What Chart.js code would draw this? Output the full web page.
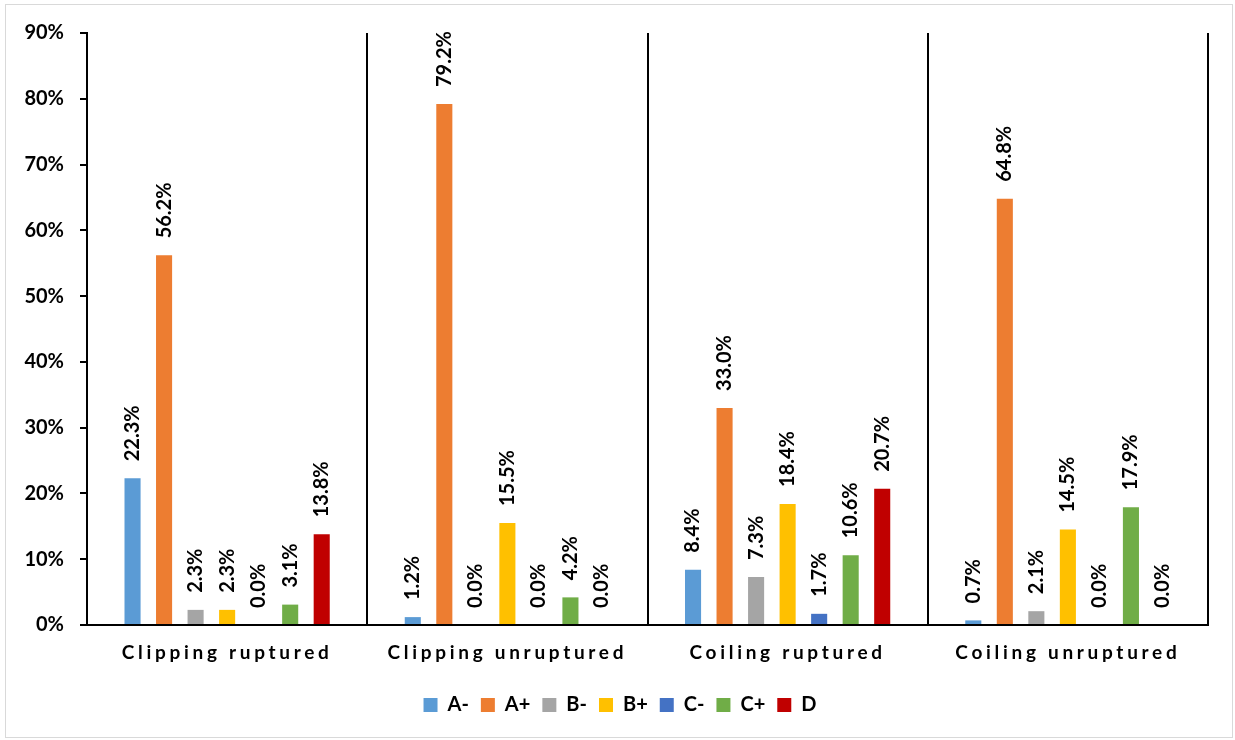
<!DOCTYPE html>
<html>
<head>
<meta charset="utf-8">
<script src="https://cdn.jsdelivr.net/npm/chart.js@4/dist/chart.umd.min.js"></script>
<style>
html,body{margin:0;background:#fff;}
#box{position:absolute;left:5px;top:4px;width:1226px;height:732px;border:1px solid #d9d9d9;}
</style>
</head>
<body>
<div id="box"><canvas id="chart" width="1226" height="732"></canvas></div>
<script>
const categories = ['Clipping ruptured', 'Clipping unruptured', 'Coiling ruptured', 'Coiling unruptured'];
const grades = ['A-', 'A+', 'B-', 'B+', 'C-', 'C+', 'D'];
const colors = ['#5B9BD5', '#ED7D31', '#A5A5A5', '#FFC000', '#4472C4', '#70AD47', '#C00000'];
// percentages per grade, one value per category
const aMinus = [22.3, 1.2, 8.4, 0.7];
const aPlus  = [56.2, 79.2, 33.0, 64.8];
const bMinus = [2.3, 0.0, 7.3, 2.1];
const bPlus  = [2.3, 15.5, 18.4, 14.5];
const cMinus = [0.0, 0.0, 1.7, 0.0];
const cPlus  = [3.1, 4.2, 10.6, 17.9];
const dGrade = [13.8, 0.0, 20.7, 0.0];
const yTicks = [0, 10, 20, 30, 40, 50, 60, 70, 80, 90];

const series = [aMinus, aPlus, bMinus, bPlus, cMinus, cPlus, dGrade];
const FONT = 'Lato';

// value labels standing vertically above each bar
const barLabels = {
  id: 'barLabels',
  afterDatasetsDraw(chart){
    const ctx = chart.ctx;
    ctx.save();
    ctx.font = `bold 20px ${FONT}`;
    ctx.fillStyle = '#000';
    ctx.textAlign = 'left';
    ctx.textBaseline = 'middle';
    chart.data.datasets.forEach((ds, i) => {
      chart.getDatasetMeta(i).data.forEach((bar, j) => {
        ctx.save();
        ctx.translate(bar.x, bar.y - 17);
        ctx.rotate(-Math.PI / 2);
        ctx.fillText(ds.data[j].toFixed(1) + '%', 0, 0);
        ctx.restore();
      });
    });
    ctx.restore();
  }
};

// category names are drawn letter-spaced; legend nudged to sit under the plot
const tweaks = {
  id: 'tweaks',
  afterLayout(chart){
    const l = chart.legend;
    l.left += 13; l.right += 13;
    const s = chart.scales.x;
    if (s._spaced) return;
    const draw = s.drawLabels;
    s.drawLabels = function(area){
      const c = this.ctx;
      c.save();
      c.letterSpacing = '3.7px';
      draw.call(this, area);
      c.restore();
    };
    s._spaced = true;
  }
};

new Chart(document.getElementById('chart'), {
  type: 'bar',
  data: {
    labels: categories,
    datasets: grades.map((g, i) => ({
      label: g,
      data: series[i],
      backgroundColor: colors[i],
      borderWidth: 0,
      categoryPercentage: 0.7875,
      barPercentage: 0.51
    }))
  },
  options: {
    responsive: false,
    animation: false,
    layout: { padding: { top: 28, right: 24, bottom: 12, left: 0 } },
    scales: {
      x: {
        afterFit(s){ s.height = 58; },
        grid: { offset: true, color: '#000', lineWidth: 2, drawTicks: false },
        border: { color: '#000', width: 2 },
        ticks: { color: '#000', padding: 16, maxRotation: 0, font: { family: FONT, size: 19, weight: 'bold' } }
      },
      y: {
        min: 0, max: 90,
        afterFit(s){ s.width = 81; },
        afterBuildTicks(s){ s.ticks = yTicks.map(v => ({ value: v })); },
        grid: { drawOnChartArea: false, color: '#000', lineWidth: 2, tickLength: 7 },
        border: { color: '#000', width: 2 },
        ticks: { color: '#000', padding: 16, callback: v => v + '%', font: { family: FONT, size: 20, weight: 'bold' } }
      }
    },
    plugins: {
      tooltip: { enabled: false },
      legend: {
        position: 'bottom',
        labels: { color: '#000', boxWidth: 14, boxHeight: 14, padding: 12, font: { family: FONT, size: 20, weight: 'bold' } }
      }
    }
  },
  plugins: [barLabels, tweaks]
});
</script>
</body>
</html>
